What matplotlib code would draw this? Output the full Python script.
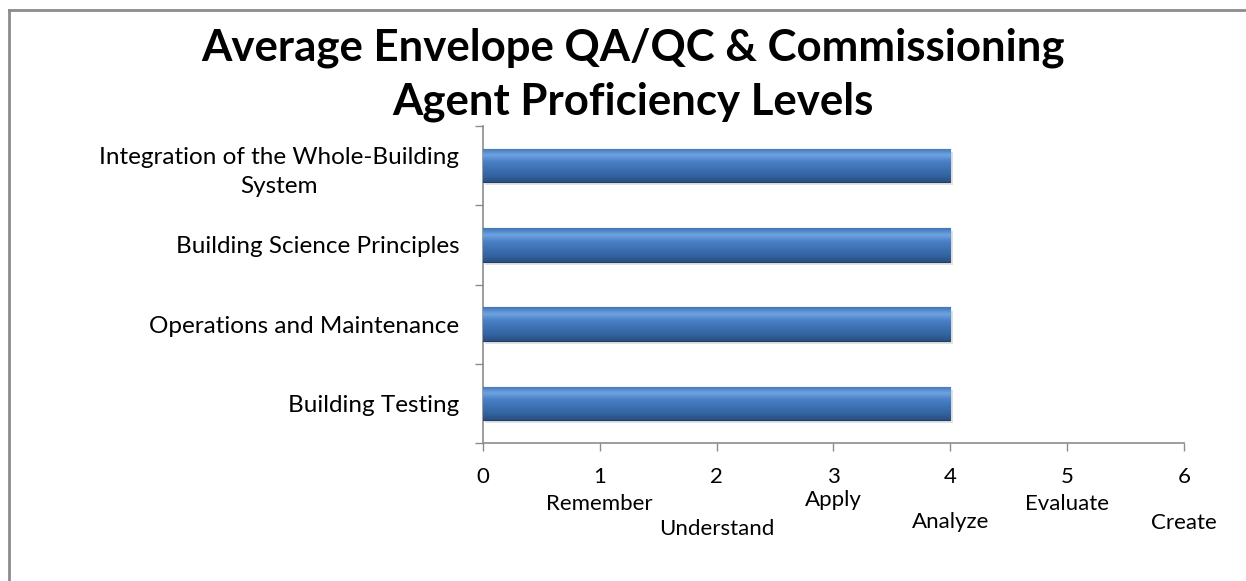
import matplotlib.pyplot as plt
import matplotlib.lines as mlines
import numpy as np
from matplotlib.colors import LinearSegmentedColormap

# data
categories = ['Building Testing', 'Operations and Maintenance',
              'Building Science Principles',
              'Integration of the Whole-Building\nSystem']
values = [4, 4, 4, 4]
x_ticks = [0, 1, 2, 3, 4, 5, 6]
level_names = ['Remember', 'Understand', 'Apply', 'Analyze', 'Evaluate', 'Create']
title_lines = ['Average Envelope QA/QC & Commissioning', 'Agent Proficiency Levels']

plt.rcParams['font.family'] = ['Lato', 'DejaVu Sans']

fig = plt.figure(figsize=(12.46, 5.81), dpi=100)
ax = fig.add_axes([0.3876, 0.2375, 0.5626, 0.5456])

# outer frame (only top and left show in the picture)
grey = '#8c8c8c'
fig.add_artist(mlines.Line2D([9 / 1246, 9 / 1246], [0, 1 - 10 / 581],
                             transform=fig.transFigure, color=grey, lw=2))
fig.add_artist(mlines.Line2D([9 / 1246, 1], [1 - 10 / 581, 1 - 10 / 581],
                             transform=fig.transFigure, color=grey, lw=2))

y = np.arange(len(categories))
bars = ax.barh(y, values, height=0.42, color='#3a6dab', edgecolor='#1f3d66',
               linewidth=0.8, zorder=3)

# glossy gradient on each bar
cmap = LinearSegmentedColormap.from_list(
    'bevel', ['#2a4f80', '#3465a2', '#3d72b5', '#4a80c4', '#6ea3e3', '#3f76b8'])
grad = np.linspace(0, 1, 100).reshape(-1, 1)
for b in bars:
    x0, y0 = b.get_x(), b.get_y()
    w, h = b.get_width(), b.get_height()
    # soft drop shadow
    ax.add_patch(plt.Rectangle((x0 + 0.02, y0 - 0.04), w, h, color='#e2e2e2',
                               zorder=2, lw=0))
    im = ax.imshow(grad, extent=[x0, x0 + w, y0, y0 + h], origin='lower',
                   cmap=cmap, aspect='auto', zorder=3.5)
    im.set_clip_path(b)

ax.set_xlim(0, 6)
ax.set_ylim(-0.5, len(categories) - 0.5)

ax.set_yticks(y)
ax.set_yticklabels(categories, fontsize=17.5, ha='right', multialignment='center',
                   linespacing=1.5)
ax.set_yticks(np.arange(-0.5, len(categories), 1), minor=True)
ax.tick_params(axis='y', which='major', length=0, pad=17)
ax.tick_params(axis='y', which='minor', length=6, color=grey, width=1)

ax.set_xticks(x_ticks)
ax.set_xticklabels([str(t) for t in x_ticks], fontsize=16)
ax.tick_params(axis='x', length=6, color=grey, width=1, pad=11)

for s in ['top', 'right']:
    ax.spines[s].set_visible(False)
for s in ['left', 'bottom']:
    ax.spines[s].set_color(grey)
    ax.spines[s].set_linewidth(1.2)

# Bloom's level names, staggered below the numbers
offsets = [-61, -86, -57, -79, -61, -80]
for xv, name, off in zip(x_ticks[1:], level_names, offsets):
    ax.annotate(name, xy=(xv, 0), xycoords=('data', 'axes fraction'),
                xytext=(0, off), textcoords='offset pixels',
                ha='center', va='center', fontsize=16)

fig.text(0.508, 1 - 61 / 581, title_lines[0], ha='center', va='baseline',
         fontsize=31.5, fontweight='bold')
fig.text(0.508, 1 - 115 / 581, title_lines[1], ha='center', va='baseline',
         fontsize=31.5, fontweight='bold')

fig.savefig('out.png', dpi=100)
